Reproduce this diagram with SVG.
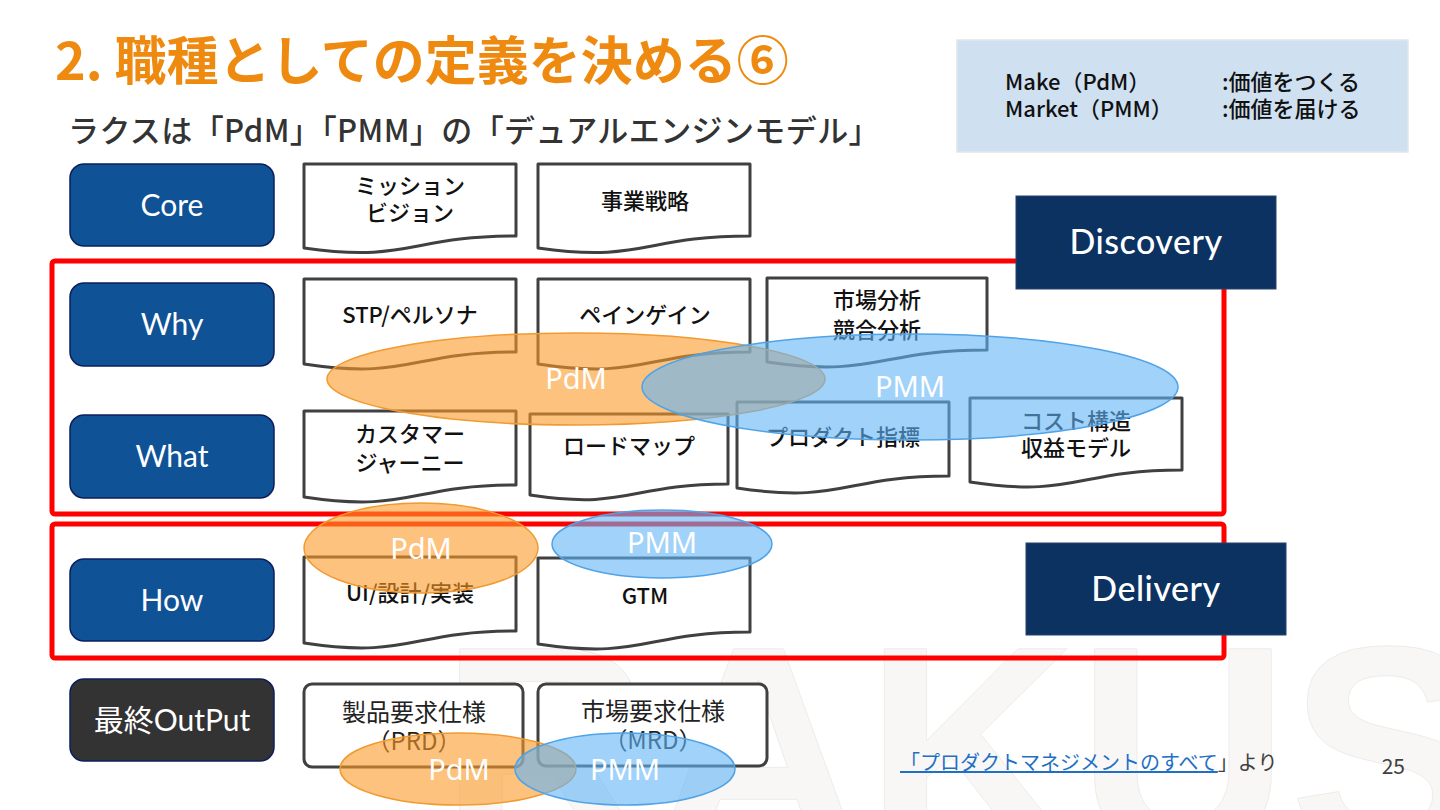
<svg xmlns="http://www.w3.org/2000/svg" width="1440" height="810" viewBox="0 0 1440 810">
<defs>
<style>
.jp{font-family:"Noto Sans CJK JP","Noto Sans",sans-serif;}
.lbl{font-family:Lato,"Noto Sans","Noto Sans CJK JP",sans-serif;font-size:30px;fill:#ffffff;text-anchor:middle;}
.side{fill:#0F5296;stroke:#0B1F5C;stroke-width:1.5;}
.doc{fill:#ffffff;stroke:#404040;stroke-width:3;stroke-linejoin:round;}
.dt{font-family:"Noto Sans CJK JP","Noto Sans",sans-serif;font-size:22px;fill:#111111;text-anchor:middle;font-weight:500;}
.ft{font-family:"Noto Sans CJK JP","Noto Sans",sans-serif;font-size:24px;fill:#222222;text-anchor:middle;font-weight:400;}
.red{fill:none;stroke:#FF0000;stroke-width:5;}
.navy{fill:#0B3261;stroke:#29436e;stroke-width:1;}
.big{font-family:Lato,"Noto Sans",sans-serif;font-size:34px;fill:#ffffff;text-anchor:middle;font-weight:500;letter-spacing:0.5px;}
.pdm{fill:#FB9B28;fill-opacity:0.6;stroke:#F09A30;stroke-width:1.5;}
.pmm{fill:#61B4F7;fill-opacity:0.6;stroke:#4FA3E6;stroke-width:1.5;}
.el{font-family:"Noto Sans","Noto Sans CJK JP",sans-serif;font-size:29px;fill:#ffffff;text-anchor:middle;}
</style>
</defs>
<rect width="1440" height="810" fill="#ffffff"/>
<!-- watermark -->
<text x="440" y="851" font-family="Liberation Sans,Arial,sans-serif" font-weight="bold" font-size="294" fill="#F8F7F5" stroke="#EEECE9" stroke-width="1">RAKUS</text>

<!-- title -->
<text x="55" y="80" class="jp" font-size="52" font-weight="700" fill="#EF8A10">2. 職種としての定義を決める⑥</text>
<text x="68" y="142" class="jp" font-size="31" font-weight="500" fill="#333333" letter-spacing="0.4">ラクスは「PdM」「PMM」の「デュアルエンジンモデル」</text>

<!-- legend -->
<g id="legend">
<rect x="957" y="40" width="451" height="112" fill="#CFE0F1" stroke="#E2E6EA" stroke-width="1.5"/>
<text x="1005" y="90" class="jp" font-size="22" font-weight="500" fill="#111">Make（PdM）</text>
<text x="1222" y="90" class="jp" font-size="22" font-weight="500" fill="#111">:価値をつくる</text>
<text x="1005" y="117" class="jp" font-size="22" font-weight="500" fill="#111">Market（PMM）</text>
<text x="1222" y="117" class="jp" font-size="22" font-weight="500" fill="#111">:価値を届ける</text>
</g>

<!-- left labels -->
<g id="core"><rect class="side" x="70" y="164" width="204" height="82" rx="14"/><text class="lbl" x="172" y="216">Core</text></g>
<g id="why"><rect class="side" x="70" y="283" width="204" height="83" rx="14"/><text class="lbl" x="172" y="335">Why</text></g>
<g id="what"><rect class="side" x="70" y="415" width="204" height="83" rx="14"/><text class="lbl" x="172" y="467">What</text></g>
<g id="how"><rect class="side" x="70" y="559" width="204" height="82" rx="14"/><text class="lbl" x="172" y="611">How</text></g>
<g id="final"><rect x="70" y="679" width="204" height="82" rx="14" fill="#333333" stroke="#0B1F5C" stroke-width="1.5"/><text class="lbl" x="172" y="731">最終OutPut</text></g>

<!-- documents -->
<g id="doc-mission"><path class="doc" d="M304,164 H516 V236 C410,236 410,263 304,248 Z"/><text class="dt" x="410" y="194">ミッション</text><text class="dt" x="410" y="221">ビジョン</text></g>
<g id="doc-strategy"><path class="doc" d="M538,164 H750 V236 C644,236 644,263 538,248 Z"/><text class="dt" x="645" y="209">事業戦略</text></g>

<g id="doc-stp"><path class="doc" d="M304,279 H516 V352 C410,352 410,380 304,364 Z"/><text class="dt" x="410" y="323">STP/ペルソナ</text></g>
<g id="doc-pain"><path class="doc" d="M538,279 H750 V352 C644,352 644,380 538,364 Z"/><text class="dt" x="645" y="323">ペインゲイン</text></g>
<g id="doc-market"><path class="doc" d="M767,278 H987 V350 C877,350 877,378 767,362 Z"/><text class="dt" x="877" y="308">市場分析</text><text class="dt" x="877" y="338">競合分析</text></g>

<g id="doc-journey"><path class="doc" d="M304,411 H516 V485 C410,485 410,513 304,497 Z"/><text class="dt" x="410" y="442">カスタマー</text><text class="dt" x="410" y="471">ジャーニー</text></g>
<g id="doc-roadmap"><path class="doc" d="M530,414 H728 V484 C629,484 629,510 530,495 Z"/><text class="dt" x="629" y="454">ロードマップ</text></g>
<g id="doc-kpi"><path class="doc" d="M737,402 H949 V476 C843,476 843,504 737,488 Z"/><text class="dt" x="843" y="445">プロダクト指標</text></g>
<g id="doc-cost"><path class="doc" d="M970,398 H1182 V470 C1076,470 1076,498 970,482 Z"/><text class="dt" x="1076" y="429">コスト構造</text><text class="dt" x="1076" y="456">収益モデル</text></g>

<g id="doc-ui"><path class="doc" d="M304,557 H516 V631 C410,631 410,659 304,643 Z"/><text class="dt" x="410" y="601">UI/設計/実装</text></g>
<g id="doc-gtm"><path class="doc" d="M538,558 H750 V632 C644,632 644,660 538,644 Z"/><text class="dt" x="645" y="604">GTM</text></g>

<g id="doc-prd"><rect class="doc" x="304" y="684" width="219" height="83" rx="8"/><text class="ft" x="414" y="721">製品要求仕様</text><text class="ft" x="414" y="750">（PRD）</text></g>
<g id="doc-mrd"><rect class="doc" x="538" y="684" width="229" height="82" rx="8"/><text class="ft" x="653" y="720">市場要求仕様</text><text class="ft" x="653" y="749">（MRD）</text></g>

<!-- frames (connectors group) -->
<g id="connectors">
<rect class="red" x="52" y="261" width="1172" height="253" rx="3"/>
<rect class="red" x="52" y="524" width="1172" height="134" rx="3"/>
</g>

<g id="discovery"><rect class="navy" x="1016" y="196" width="260" height="93"/><text class="big" x="1146" y="254">Discovery</text></g>
<g id="delivery"><rect class="navy" x="1026" y="543" width="260" height="92"/><text class="big" x="1156" y="601">Delivery</text></g>

<!-- role ellipses -->
<g id="pdm-discovery"><ellipse class="pdm" cx="576" cy="379" rx="249" ry="46"/><text class="el" x="576" y="389">PdM</text></g>
<g id="pmm-discovery"><ellipse class="pmm" cx="910" cy="387" rx="268" ry="53"/><text class="el" x="910" y="397">PMM</text></g>
<g id="pdm-delivery"><ellipse class="pdm" cx="421" cy="548" rx="117" ry="45"/><text class="el" x="421" y="559">PdM</text></g>
<g id="pmm-delivery"><ellipse class="pmm" cx="662" cy="544" rx="110" ry="34"/><text class="el" x="662" y="553">PMM</text></g>
<g id="pdm-output"><ellipse class="pdm" cx="458" cy="769" rx="118" ry="36"/><text class="el" x="459" y="780">PdM</text></g>
<g id="pmm-output"><ellipse class="pmm" cx="625" cy="769" rx="110" ry="36"/><text class="el" x="625" y="780">PMM</text></g>

<!-- footer -->
<text x="900" y="770" class="jp" font-size="20"><tspan fill="#1F6FC5" text-decoration="underline">「プロダクトマネジメントのすべて</tspan><tspan fill="#404040">」より</tspan></text>
<text x="1405" y="774" class="jp" font-size="21" fill="#404040" text-anchor="end">25</text>
</svg>
